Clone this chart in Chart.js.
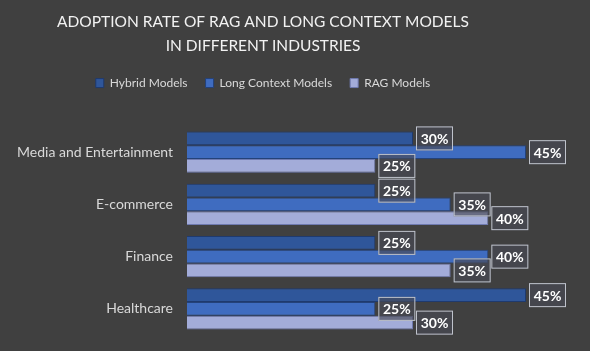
<!DOCTYPE html>
<html>
<head>
<meta charset="utf-8">
<script src="https://cdn.jsdelivr.net/npm/chart.js@4"></script>
<style>
  html, body { margin: 0; padding: 0; background: #404040; }
  #wrap { width: 590px; height: 351px; }
</style>
</head>
<body>
<div id="wrap"><canvas id="c"></canvas></div>
<script>
var industries = ['Media and Entertainment', 'E-commerce', 'Finance', 'Healthcare'];
var hybridModels = [30, 25, 25, 45];
var longContextModels = [45, 35, 40, 25];
var ragModels = [25, 40, 35, 30];

var FONT = "Lato, 'Open Sans', sans-serif";

// boxed value labels to the right of each bar
var valueLabels = {
  id: 'valueLabels',
  afterDatasetsDraw: function(chart) {
    var ctx = chart.ctx;
    ctx.save();
    ctx.font = 'bold 14px ' + FONT;
    ctx.textAlign = 'center';
    ctx.textBaseline = 'middle';
    chart.data.datasets.forEach(function(ds, i) {
      var meta = chart.getDatasetMeta(i);
      meta.data.forEach(function(bar, j) {
        var x = bar.x + 3, y = bar.y;
        var w = 37, h = 24;
        ctx.fillStyle = 'rgba(72,74,84,0.65)';
        ctx.fillRect(x, y - h / 2, w, h);
        ctx.strokeStyle = '#bfc3cc';
        ctx.lineWidth = 1;
        ctx.strokeRect(x + 0.5, y - h / 2 + 0.5, w - 1, h - 1);
        ctx.fillStyle = '#ffffff';
        ctx.fillText(ds.data[j] + '%', x + w / 2, y + 1);
      });
    });
    ctx.restore();
  }
};

// extra space under the legend
var legendGap = {
  id: 'legendGap',
  beforeInit: function(chart) {
    var fit = chart.legend.fit;
    chart.legend.fit = function() {
      fit.bind(chart.legend)();
      this.height += 27;
    };
  }
};

new Chart(document.getElementById('c'), {
  type: 'bar',
  plugins: [valueLabels, legendGap],
  data: {
    labels: industries,
    datasets: [
      { label: 'Hybrid Models', data: hybridModels, backgroundColor: '#2f569a', borderColor: '#1f3a6e', borderWidth: 1 },
      { label: 'Long Context Models', data: longContextModels, backgroundColor: '#3f6cc0', borderColor: '#24427a', borderWidth: 1 },
      { label: 'RAG Models', data: ragModels, backgroundColor: '#a3acd9', borderColor: '#6f7ab0', borderWidth: 1 },
    ]
  },
  options: {
    indexAxis: 'y',
    responsive: true,
    maintainAspectRatio: false,
    animation: false,
    layout: {
      padding: { left: 0, right: 64, top: 8, bottom: 16 }
    },
    datasets: {
      bar: {
        categoryPercentage: 0.79,
        barPercentage: 1.0,
      }
    },
    scales: {
      x: {
        display: false,
        min: 0,
        max: 45,
      },
      y: {
        grid: { display: false },
        border: { display: false },
        afterFit: function(scale) {
          scale.width = 187;
        },
        ticks: {
          color: '#d9d9d9',
          font: { family: FONT, size: 14 },
          padding: 6,
        }
      }
    },
    plugins: {
      title: {
        display: true,
        text: ['ADOPTION RATE OF RAG AND LONG CONTEXT MODELS', 'IN DIFFERENT INDUSTRIES'],
        color: '#f2f2f2',
        font: { family: FONT, size: 15.5, weight: 'normal', lineHeight: 1.55 },
        padding: { top: 2, bottom: 1 },
      },
      legend: {
        labels: {
          color: '#d9d9d9',
          font: { family: FONT, size: 12 },
          boxWidth: 8,
          boxHeight: 9,
          padding: 18,
        }
      },
      tooltip: { enabled: false }
    }
  }
});
</script>
</body>
</html>
